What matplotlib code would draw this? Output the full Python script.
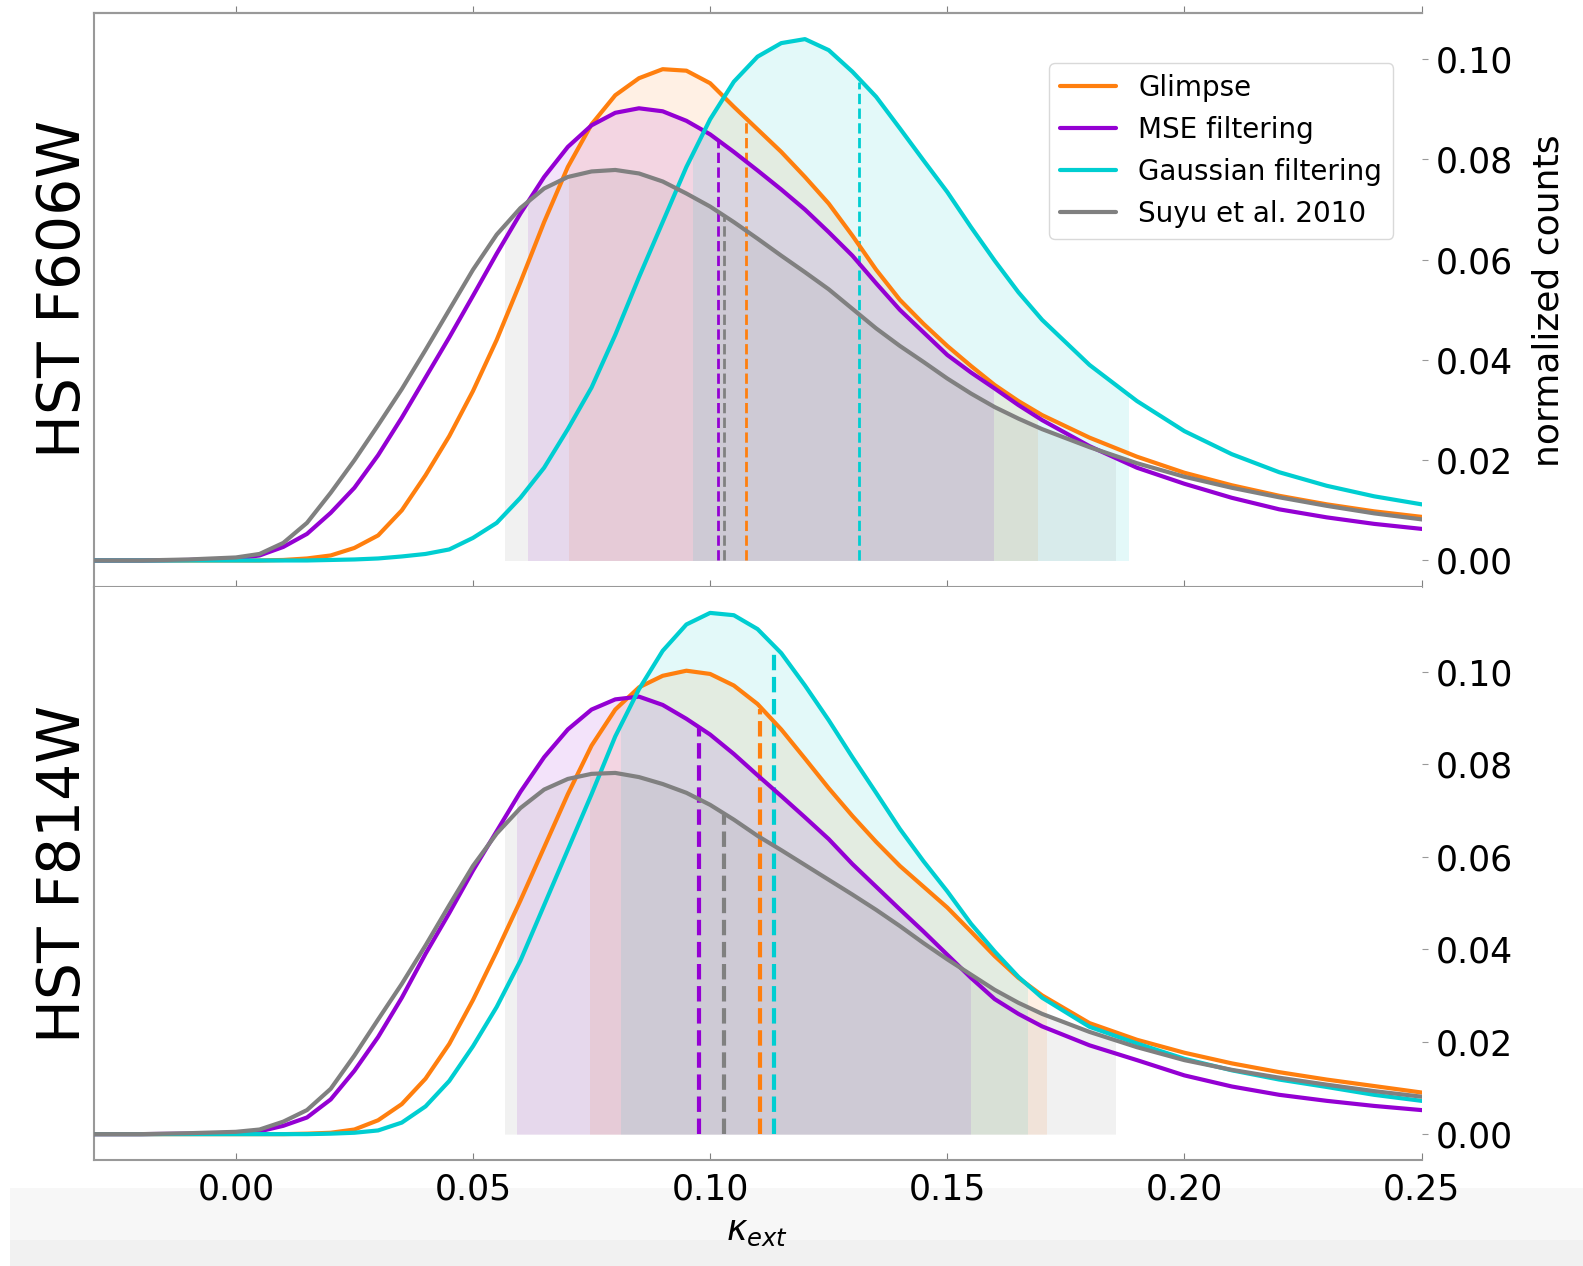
import numpy as np
import matplotlib
matplotlib.use('Agg')
import matplotlib.pyplot as plt
from matplotlib.patches import Rectangle

kappa = [-0.03, -0.02, -0.01, 0.0, 0.005, 0.01, 0.015, 0.02, 0.025, 0.03,
         0.035, 0.04, 0.045, 0.05, 0.055, 0.06, 0.065, 0.07, 0.075, 0.08,
         0.085, 0.09, 0.095, 0.10, 0.105, 0.11, 0.115, 0.12, 0.125, 0.13,
         0.135, 0.14, 0.145, 0.15, 0.155, 0.16, 0.165, 0.17, 0.18, 0.19,
         0.20, 0.21, 0.22, 0.23, 0.24, 0.25, 0.26]

# HST F606W
f606_glimpse = [0, 0, 0, 0, 0, 0.0001, 0.0004, 0.0010, 0.0025, 0.0050,
                0.0100, 0.0170, 0.0248, 0.0338, 0.0440, 0.0555, 0.0675, 0.0785, 0.0870, 0.0928,
                0.0962, 0.0980, 0.0977, 0.0952, 0.0905, 0.0860, 0.0815, 0.0765, 0.0712, 0.0648,
                0.0580, 0.0520, 0.0472, 0.0428, 0.0388, 0.0350, 0.0318, 0.0290, 0.0245, 0.0207,
                0.0175, 0.0150, 0.0129, 0.0112, 0.0098, 0.0087, 0.0078]
f606_mse = [0, 0, 0.0001, 0.0004, 0.0010, 0.0027, 0.0053, 0.0095, 0.0145, 0.0210,
            0.0285, 0.0365, 0.0445, 0.0528, 0.0612, 0.0692, 0.0765, 0.0825, 0.0868, 0.0893,
            0.0902, 0.0896, 0.0877, 0.0850, 0.0815, 0.0778, 0.0740, 0.0700, 0.0655, 0.0608,
            0.0553, 0.0500, 0.0455, 0.0410, 0.0375, 0.0343, 0.0310, 0.0280, 0.0228, 0.0185,
            0.0153, 0.0125, 0.0102, 0.0086, 0.0073, 0.0063, 0.0055]
f606_gauss = [0, 0, 0, 0, 0, 0, 0, 0.0001, 0.0002, 0.0004,
              0.0008, 0.0013, 0.0022, 0.0045, 0.0075, 0.0125, 0.0185, 0.0262, 0.0345, 0.0450,
              0.0565, 0.0675, 0.0785, 0.0880, 0.0955, 0.1005, 0.1032, 0.1040, 0.1018, 0.0975,
              0.0925, 0.0862, 0.0798, 0.0735, 0.0665, 0.0598, 0.0535, 0.0480, 0.0390, 0.0318,
              0.0258, 0.0212, 0.0176, 0.0149, 0.0128, 0.0112, 0.0100]
f606_suyu = [0, 0, 0.0002, 0.0006, 0.0013, 0.0035, 0.0075, 0.0135, 0.0200, 0.0270,
             0.0342, 0.0420, 0.0500, 0.0580, 0.0650, 0.0703, 0.0742, 0.0765, 0.0776, 0.0779,
             0.0772, 0.0756, 0.0732, 0.0706, 0.0675, 0.0642, 0.0608, 0.0575, 0.0541, 0.0502,
             0.0463, 0.0428, 0.0396, 0.0363, 0.0333, 0.0306, 0.0283, 0.0262, 0.0226, 0.0194,
             0.0167, 0.0145, 0.0126, 0.0109, 0.0094, 0.0082, 0.0072]

# HST F814W
f814_glimpse = [0, 0, 0, 0, 0, 0, 0.0001, 0.0003, 0.0010, 0.0030,
                0.0065, 0.0120, 0.0195, 0.0290, 0.0395, 0.0505, 0.0620, 0.0735, 0.0840, 0.0918,
                0.0966, 0.0991, 0.1002, 0.0995, 0.0970, 0.0930, 0.0875, 0.0812, 0.0748, 0.0688,
                0.0632, 0.0580, 0.0535, 0.0490, 0.0438, 0.0385, 0.0338, 0.0300, 0.0240, 0.0204,
                0.0176, 0.0153, 0.0134, 0.0118, 0.0104, 0.0090, 0.0080]
f814_mse = [0, 0, 0.0001, 0.0003, 0.0006, 0.0018, 0.0036, 0.0075, 0.0137, 0.0210,
            0.0295, 0.0390, 0.0478, 0.0570, 0.0655, 0.0740, 0.0815, 0.0875, 0.0918, 0.0940,
            0.0946, 0.0928, 0.0898, 0.0864, 0.0822, 0.0776, 0.0731, 0.0685, 0.0638, 0.0584,
            0.0535, 0.0486, 0.0438, 0.0388, 0.0338, 0.0292, 0.0260, 0.0233, 0.0192, 0.0160,
            0.0127, 0.0103, 0.0085, 0.0072, 0.0061, 0.0052, 0.0046]
f814_gauss = [0, 0, 0, 0, 0, 0, 0, 0.0001, 0.0003, 0.0008,
              0.0025, 0.0060, 0.0115, 0.0190, 0.0275, 0.0375, 0.0495, 0.0615, 0.0735, 0.0860,
              0.0962, 0.1045, 0.1102, 0.1127, 0.1122, 0.1092, 0.1040, 0.0970, 0.0895, 0.0815,
              0.0738, 0.0660, 0.0590, 0.0525, 0.0455, 0.0395, 0.0340, 0.0295, 0.0232, 0.0196,
              0.0163, 0.0138, 0.0118, 0.0102, 0.0085, 0.0072, 0.0063]
f814_suyu = [0, 0, 0.0002, 0.0005, 0.0010, 0.0027, 0.0052, 0.0098, 0.0170, 0.0248,
             0.0325, 0.0408, 0.0495, 0.0580, 0.0650, 0.0705, 0.0745, 0.0768, 0.0779, 0.0781,
             0.0772, 0.0757, 0.0738, 0.0712, 0.0680, 0.0645, 0.0614, 0.0582, 0.0550, 0.0518,
             0.0485, 0.0450, 0.0413, 0.0378, 0.0345, 0.0312, 0.0284, 0.0260, 0.0221, 0.0188,
             0.0160, 0.0139, 0.0122, 0.0107, 0.0093, 0.0081, 0.0072]

labels = ['Glimpse', 'MSE filtering', 'Gaussian filtering', 'Suyu et al. 2010']
colors = ['#ff7f0e', 'darkviolet', 'darkturquoise', 'gray']

# shaded intervals and medians, order as labels
f606_lo = [0.0703, 0.0616, 0.0964, 0.0568]
f606_hi = [0.1689, 0.1597, 0.1881, 0.1854]
f606_med = [0.1075, 0.1016, 0.1314, 0.1030]
f606_medtop = [0.0885, 0.0838, 0.0955, 0.0686]

f814_lo = [0.0746, 0.0593, 0.0813, 0.0568]
f814_hi = [0.1708, 0.1547, 0.1669, 0.1854]
f814_med = [0.1105, 0.0976, 0.1135, 0.1030]
f814_medtop = [0.0920, 0.0882, 0.1045, 0.0690]


def draw_panel(ax, curves, lo, hi, med, medtop, dash_lw):
    x = np.array(kappa)
    for y, c, a, b in zip(curves, colors, lo, hi):
        poly = ax.fill_between(x, 0, y, color=c, alpha=0.11, lw=0, zorder=1)
        poly.set_clip_path(Rectangle((a, -1), b - a, 2, transform=ax.transData))
    for m, t, c in zip(med, medtop, colors):
        ax.vlines(m, 0, t, colors=c, linestyles='--', lw=dash_lw, zorder=2)
    for y, c, lab in zip(curves, colors, labels):
        ax.plot(x, y, color=c, lw=3, label=lab, zorder=3,
                solid_joinstyle='round', solid_capstyle='round')


fig, (ax1, ax2) = plt.subplots(2, 1, figsize=(15.83, 12.66), dpi=100, sharex=True)
fig.subplots_adjust(left=0.0591, right=0.898, top=0.9897, bottom=0.0837, hspace=0)

draw_panel(ax1, [f606_glimpse, f606_mse, f606_gauss, f606_suyu],
           f606_lo, f606_hi, f606_med, f606_medtop, 2)
draw_panel(ax2, [f814_glimpse, f814_mse, f814_gauss, f814_suyu],
           f814_lo, f814_hi, f814_med, f814_medtop, 3)

ax1.set_xlim(-0.03, 0.25)
ax1.set_ylim(-0.0052, 0.1092)
ax2.set_ylim(-0.0056, 0.1184)

for ax in (ax1, ax2):
    ax.yaxis.tick_right()
    ax.set_yticks([0.0, 0.02, 0.04, 0.06, 0.08, 0.10])
    ax.tick_params(axis='y', direction='out', length=4, color='0.6', labelsize=25, pad=6)
    ax.tick_params(axis='x', direction='in', length=5, color='0.5', labelsize=25, pad=9)
    ax.spines['right'].set_visible(False)
    for s in ('left', 'bottom', 'top'):
        ax.spines[s].set_color('0.6')
        ax.spines[s].set_linewidth(1.5)
ax2.spines['top'].set_visible(False)
ax2.set_xticks([0.0, 0.05, 0.10, 0.15, 0.20, 0.25])

# ticks above the top spine of the upper panel
top = ax1.secondary_xaxis('top')
top.set_xticks([0.0, 0.05, 0.10, 0.15, 0.20, 0.25])
top.tick_params(direction='out', length=5, color='0.5', labeltop=False)
top.spines['top'].set_color('0.6')
top.spines['top'].set_linewidth(1.5)

ax1.legend(loc='upper right', bbox_to_anchor=(0.9786, 0.9127), borderaxespad=0,
           fontsize=20, edgecolor='0.85', framealpha=1)

fig.text(0.040, 0.772, 'HST F606W', rotation=90, fontsize=42, ha='center', va='center')
fig.text(0.040, 0.310, 'HST F814W', rotation=90, fontsize=42, ha='center', va='center')
fig.text(0.9785, 0.7624, 'normalized counts', rotation=90, fontsize=26,
         ha='center', va='center')
fig.text(0.4785, 0.028, r'$\kappa_{ext}$', fontsize=25, ha='center', va='center')

# light grey strip along the bottom of the picture
fig.patches.append(Rectangle((0.0063, 0), 0.9937, 0.0616, transform=fig.transFigure,
                             facecolor='#f7f7f7', edgecolor='none', zorder=-2))
fig.patches.append(Rectangle((0.0063, 0), 0.9937, 0.0205, transform=fig.transFigure,
                             facecolor='#f1f1f1', edgecolor='none', zorder=-1))

plt.savefig('out.png', dpi=100)
